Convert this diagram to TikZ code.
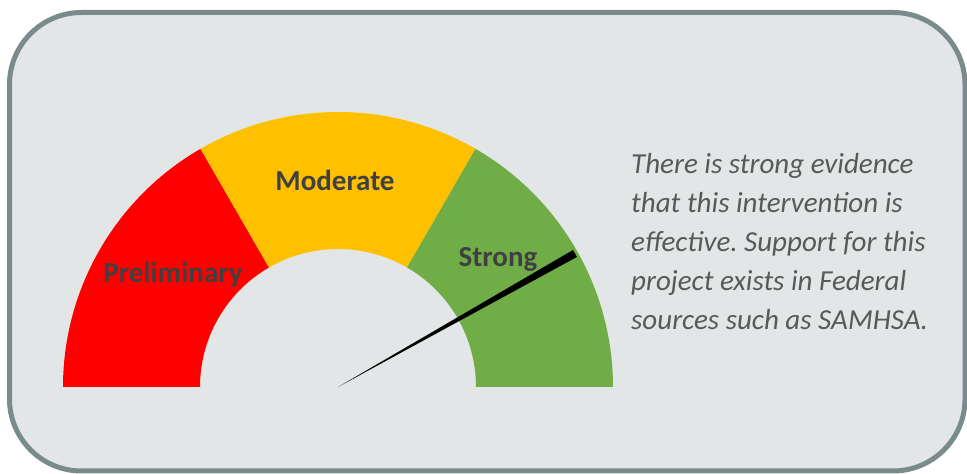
\documentclass[tikz,border=0pt]{standalone}
\usepackage{fontspec}
\setmainfont{Carlito}
\frenchspacing
\usetikzlibrary{calc,positioning}
\definecolor{panelfill}{HTML}{E3E6E7}
\definecolor{panelline}{HTML}{7A8B8B}
\definecolor{gaugered}{HTML}{FF0000}
\definecolor{gaugeyellow}{HTML}{FFC000}
\definecolor{gaugegreen}{HTML}{70AD47}
\definecolor{labelgray}{HTML}{404040}
\definecolor{blurbgray}{HTML}{595959}
\tikzset{
  panel/.style={draw=panelline, fill=panelfill, line width=5pt, rounded corners=72pt},
  level/.style={text=labelgray, font=\fontsize{29}{34}\selectfont\bfseries, inner sep=0pt},
  blurb/.style={text=blurbgray, font=\fontsize{29}{39}\selectfont\itshape, align=left, inner sep=0pt},
  needle/.style={fill=black}
}
\begin{document}
\begin{tikzpicture}[x=1pt,y=1pt]
  \useasboundingbox (0,0) rectangle (967,474);
  \draw[panel] (9.5,3) rectangle (965,461.5);
  \coordinate (hub) at (338,87);
  % three 60 degree bands of the dial
  \foreach \a/\c in {120/gaugered,60/gaugeyellow,0/gaugegreen}{
    \fill[\c,shift={(hub)}] (\a:138) arc[start angle=\a,delta angle=60,radius=138]
      -- (\a+60:275) arc[start angle=\a+60,delta angle=-60,radius=275] -- cycle;
  }
  \node[level] (prelim) at (173,199) {Preliminary};
  \node[level] (moderate) at (335,294) {Moderate};
  \node[level] (strong) at (498,215) {Strong};
  % pointer
  \fill[needle,shift={(hub)},rotate=29.4] (0,0) -- (272,-4) -- (272,4) -- cycle;
  \node[blurb,anchor=base west] (note) at (631,144)
    {There is strong evidence\\that this intervention is\\effective. Support for this\\project exists in Federal\\sources such as SAMHSA.};
\end{tikzpicture}
\end{document}
